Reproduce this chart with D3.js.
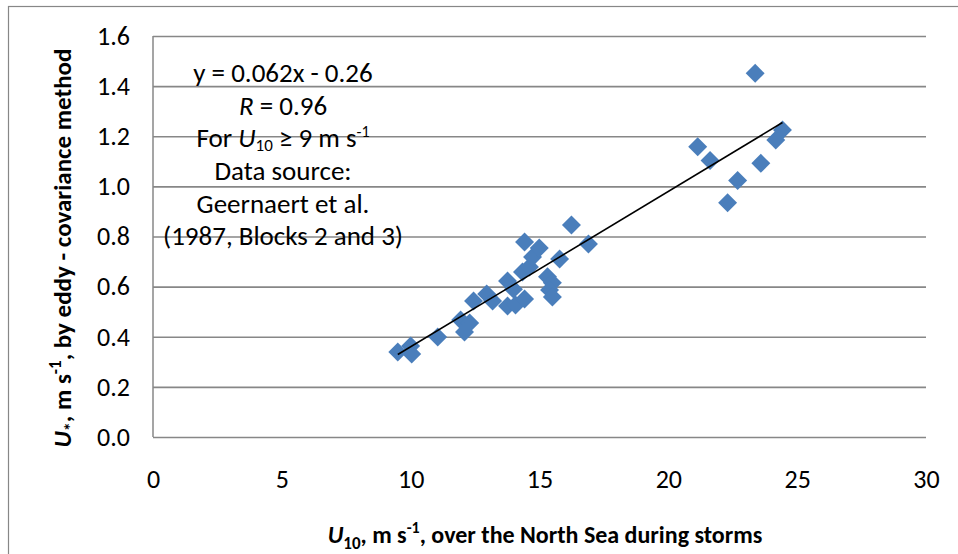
<!DOCTYPE html>
<html>
<head>
<meta charset="utf-8">
<script src="https://cdn.jsdelivr.net/npm/d3@7"></script>
<style>
  html, body { margin: 0; padding: 0; background: #fff; }
  svg { display: block; }
  text { font-family: Carlito, Lato, "Open Sans", sans-serif; fill: #000; }
</style>
</head>
<body>
<svg id="chart" width="958" height="554"></svg>
<script>
// Wind speed at 10 m (m/s) and friction velocity (m/s) from eddy-covariance runs
const windSpeed = [
  9.50, 10.00, 10.04, 11.05, 11.94, 12.29, 12.09, 12.44, 12.95, 13.18,
  13.76, 13.99, 13.76, 14.07, 14.42, 14.34, 14.61, 14.73, 14.42, 14.99,
  15.31, 15.50, 15.39, 15.50, 15.78, 16.24, 16.90,
  21.14, 21.62, 22.69, 22.30, 23.59, 24.17, 24.43, 23.37
];
const frictionVelocity = [
  0.339, 0.363, 0.331, 0.399, 0.467, 0.455, 0.419, 0.543, 0.571, 0.543,
  0.622, 0.590, 0.523, 0.527, 0.551, 0.658, 0.678, 0.718, 0.778, 0.754,
  0.639, 0.615, 0.587, 0.559, 0.710, 0.846, 0.770,
  1.158, 1.103, 1.023, 0.935, 1.092, 1.185, 1.225, 1.451
];
const xTicks = [0, 5, 10, 15, 20, 25, 30];
const yTicks = [0, 0.2, 0.4, 0.6, 0.8, 1.0, 1.2, 1.4, 1.6];
// Linear fit shown on the chart
const slope = 0.062;
const intercept = -0.26;

const svg = d3.select("#chart");
const plot = { left: 153, right: 926, top: 36, bottom: 437 };
const gridColor = "#878787";

const x = d3.scaleLinear().domain([0, 30]).range([plot.left, plot.right]);
const y = d3.scaleLinear().domain([0, 1.6]).range([plot.bottom, plot.top]);

// Outer chart-area border (runs off the right and bottom edges)
svg.append("rect")
  .attr("x", 8.5).attr("y", 6.5)
  .attr("width", 1200).attr("height", 1200)
  .attr("fill", "none").attr("stroke", gridColor).attr("stroke-width", 1.2);

// Horizontal gridlines + y tick labels via a left axis
const yAxis = svg.append("g")
  .attr("transform", `translate(${plot.left},0)`)
  .call(d3.axisLeft(y).tickValues(yTicks).tickFormat(d3.format(".1f"))
    .tickSize(-(plot.right - plot.left)).tickPadding(23));
yAxis.select(".domain").attr("stroke", gridColor).attr("stroke-width", 1.5)
  .attr("d", `M0,${plot.top}V${plot.bottom}`);
yAxis.selectAll(".tick line").attr("stroke", gridColor).attr("stroke-width", 1.6);
yAxis.selectAll(".tick text")
  .style("font-size", "26px").attr("fill", "#000");

// X tick labels (no ticks drawn below the plot)
const xAxis = svg.append("g")
  .attr("transform", `translate(0,${plot.bottom})`)
  .call(d3.axisBottom(x).tickValues(xTicks).tickFormat(d3.format("d"))
    .tickSize(0).tickPadding(33));
xAxis.select(".domain").remove();
xAxis.selectAll(".tick text").style("font-size", "26px").attr("fill", "#000");

// Data points as rotated squares
svg.append("g").selectAll("path")
  .data(windSpeed.map((w, i) => [w, frictionVelocity[i]]))
  .join("path")
  .attr("d", d3.symbol(d3.symbolSquare, 180))
  .attr("transform", d => `translate(${x(d[0])},${y(d[1])}) rotate(45)`)
  .attr("fill", "#4a7ebb");

// Trend line over the range of the data
const xr = d3.extent(windSpeed);
svg.append("line")
  .attr("x1", x(xr[0])).attr("y1", y(slope * xr[0] + intercept))
  .attr("x2", x(xr[1])).attr("y2", y(slope * xr[1] + intercept))
  .attr("stroke", "#000").attr("stroke-width", 1.6);

// Annotation block
const note = svg.append("g").attr("text-anchor", "middle").style("font-size", "27px");
const noteX = 283;
const lineY = [82, 114.5, 147, 180, 212.5, 245];

note.append("text").attr("x", noteX).attr("y", lineY[0])
  .text(`y = ${slope}x - ${Math.abs(intercept)}`);
const rLine = note.append("text").attr("x", noteX).attr("y", lineY[1]);
rLine.append("tspan").style("font-style", "italic").text("R");
rLine.append("tspan").text(" = 0.96");
const forLine = note.append("text").attr("x", noteX).attr("y", lineY[2]);
forLine.append("tspan").text("For ");
forLine.append("tspan").style("font-style", "italic").text("U");
forLine.append("tspan").attr("dy", 4).style("font-size", "17px").text("10");
forLine.append("tspan").attr("dy", -4).text(" ≥ 9 m s");
forLine.append("tspan").attr("dy", -10).style("font-size", "16px").text("-1");
note.append("text").attr("x", noteX).attr("y", lineY[3]).text("Data source:");
note.append("text").attr("x", noteX).attr("y", lineY[4]).text("Geernaert et al.");
note.append("text").attr("x", noteX).attr("y", lineY[5]).text("(1987, Blocks 2 and 3)");

// X axis title
const xt = svg.append("text")
  .attr("x", 545).attr("y", 543).attr("text-anchor", "middle")
  .style("font-size", "24px").style("font-weight", "bold");
xt.append("tspan").style("font-style", "italic").text("U");
xt.append("tspan").attr("dy", 6).style("font-size", "17px").text("10");
xt.append("tspan").attr("dy", -6).text(", m s");
xt.append("tspan").attr("dy", -10).style("font-size", "16px").text("-1");
xt.append("tspan").attr("dy", 10).text(", over the North Sea during storms");

// Y axis title
const yt = svg.append("text")
  .attr("transform", "translate(71,248) rotate(-90)")
  .attr("text-anchor", "middle")
  .style("font-size", "25px").style("font-weight", "bold");
yt.append("tspan").style("font-style", "italic").text("U");
yt.append("tspan").attr("dy", 6).style("font-size", "18px").text("*");
yt.append("tspan").attr("dy", -6).text(", m s");
yt.append("tspan").attr("dy", -10).style("font-size", "17px").text("-1");
yt.append("tspan").attr("dy", 10).text(", by eddy - covariance method");
</script>
</body>
</html>
